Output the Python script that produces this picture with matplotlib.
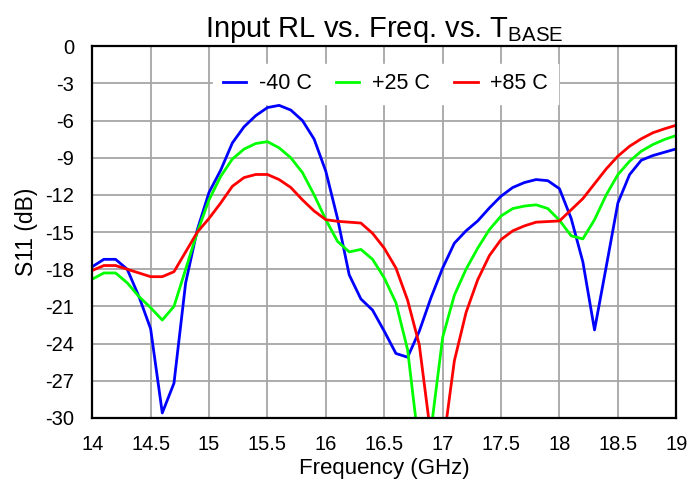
import matplotlib
matplotlib.use("Agg")
import matplotlib.pyplot as plt

plt.rcParams['font.family'] = ['Liberation Sans', 'DejaVu Sans']
plt.rcParams['axes.unicode_minus'] = False

freq = [14.0, 14.1, 14.2, 14.3, 14.4, 14.5, 14.6, 14.7, 14.8, 14.9,
        15.0, 15.1, 15.2, 15.3, 15.4, 15.5, 15.6, 15.7, 15.8, 15.9,
        16.0, 16.1, 16.2, 16.3, 16.4, 16.5, 16.6, 16.7, 16.8, 16.9,
        17.0, 17.1, 17.2, 17.3, 17.4, 17.5, 17.6, 17.7, 17.8, 17.9,
        18.0, 18.1, 18.2, 18.3, 18.4, 18.5, 18.6, 18.7, 18.8, 18.9, 19.0]

s11_m40 = [-17.8, -17.2, -17.2, -18.0, -20.2, -22.8, -29.6, -27.2, -19.1, -14.8,
           -11.8, -10.0, -7.8, -6.5, -5.6, -4.95, -4.77, -5.15, -6.0, -7.5,
           -10.1, -13.9, -18.45, -20.4, -21.3, -23.0, -24.8, -25.1, -23.0, -20.3,
           -17.9, -15.9, -14.9, -14.1, -13.05, -12.1, -11.4, -11.0, -10.76, -10.85,
           -11.5, -13.9, -17.4, -22.9, -17.8, -12.65, -10.36, -9.2, -8.82, -8.55, -8.28]

s11_p25 = [-18.8, -18.3, -18.3, -19.1, -20.2, -21.1, -22.1, -21.0, -18.0, -15.0,
           -12.4, -10.5, -9.1, -8.3, -7.85, -7.7, -8.2, -9.0, -10.2, -12.0,
           -14.0, -15.75, -16.6, -16.4, -17.2, -18.7, -20.7, -24.5, -32.5, -31.0,
           -23.5, -20.1, -18.0, -16.3, -14.8, -13.7, -13.1, -12.9, -12.8, -13.1,
           -14.05, -15.3, -15.55, -14.0, -12.0, -10.36, -9.28, -8.47, -7.93, -7.52, -7.2]

s11_p85 = [-18.1, -17.7, -17.7, -18.0, -18.3, -18.6, -18.6, -18.2, -16.6, -15.0,
           -13.9, -12.65, -11.3, -10.6, -10.35, -10.35, -10.76, -11.4, -12.4, -13.3,
           -14.0, -14.13, -14.2, -14.27, -15.1, -16.3, -17.9, -20.5, -24.1, -31.5,
           -32.5, -25.4, -21.5, -18.85, -16.9, -15.6, -14.9, -14.5, -14.2, -14.15,
           -14.1, -13.2, -12.3, -11.1, -9.9, -8.87, -8.07, -7.47, -6.98, -6.66, -6.37]

labels = ['-40 C', '+25 C', '+85 C']
colors = ['#0000ff', '#00ff00', '#ff0000']

xticks = [14, 14.5, 15, 15.5, 16, 16.5, 17, 17.5, 18, 18.5, 19]
xticklabels = ['14', '14.5', '15', '15.5', '16', '16.5', '17', '17.5', '18', '18.5', '19']
yticks = [0, -3, -6, -9, -12, -15, -18, -21, -24, -27, -30]

fig = plt.figure(figsize=(6.88, 4.82), dpi=100)
ax = fig.add_axes([0.134, 0.133, 0.849, 0.771])

for ys, lab, c in zip([s11_m40, s11_p25, s11_p85], labels, colors):
    ax.plot(freq, ys, color=c, lw=2.0, label=lab, clip_on=True, zorder=3)

ax.set_xlim(14, 19)
ax.set_ylim(-30, 0)
ax.set_xticks(xticks)
ax.set_xticklabels(xticklabels)
ax.set_yticks(yticks)
ax.set_yticklabels([str(v) for v in yticks])
ax.tick_params(axis='both', length=0, labelsize=14.5, colors='black')
ax.tick_params(axis='x', pad=12)
ax.tick_params(axis='y', pad=13)
ax.grid(True, color='#a6a6a6', lw=1.3)
ax.set_axisbelow(True)
for sp in ax.spines.values():
    sp.set_linewidth(1.6)
    sp.set_color('black')
    sp.set_zorder(4)

ax.set_xlabel('Frequency (GHz)', fontsize=16, labelpad=3)
ax.set_ylabel('S11 (dB)', fontsize=16.5, labelpad=5)
ax.set_title('Input RL vs. Freq. vs. T$_\\mathregular{BASE}$', fontsize=21, pad=7)

leg = ax.legend(ncol=3, loc='upper center', bbox_to_anchor=(0.502, 0.982),
                frameon=True, fancybox=False, framealpha=1, facecolor='white',
                edgecolor='white', fontsize=15.5, handlelength=1.1,
                handletextpad=0.6, columnspacing=1.1, borderpad=0.45)
leg.set_zorder(2.5)

fig.savefig('out.png', dpi=100)
